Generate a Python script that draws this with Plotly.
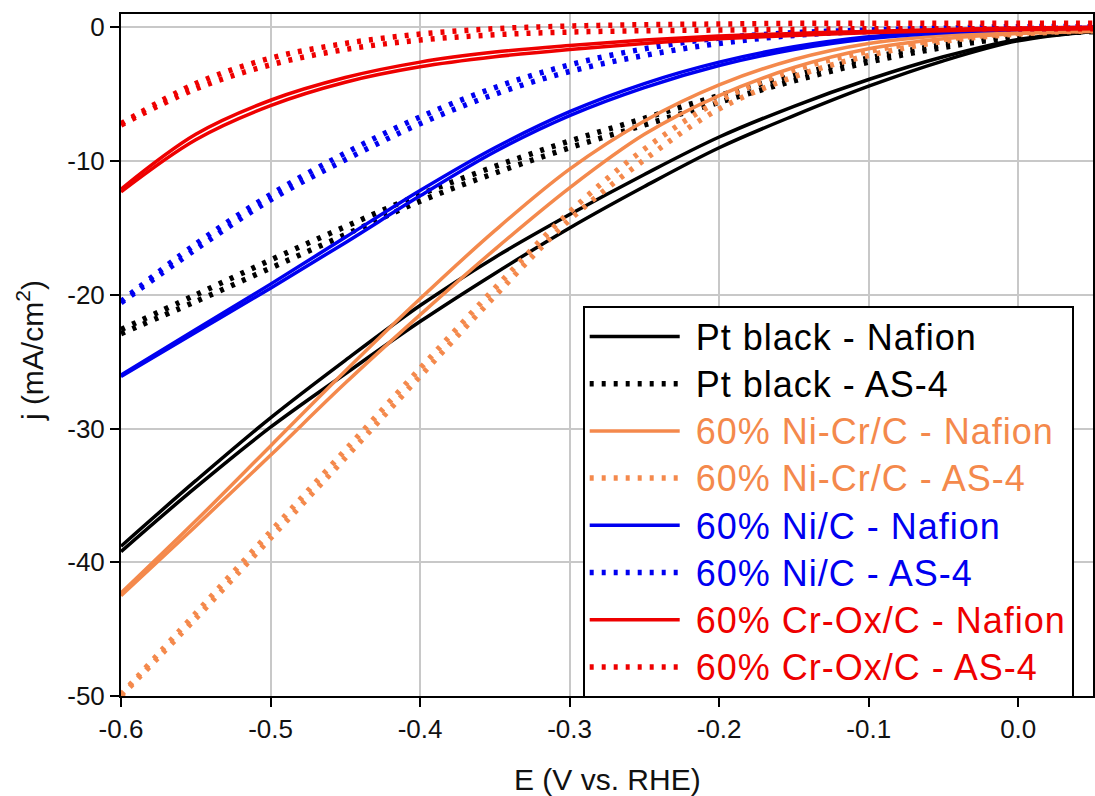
import plotly.graph_objects as go

# Potential grid (V vs. RHE)
E = [-0.60, -0.55, -0.50, -0.45, -0.40, -0.35, -0.30, -0.25, -0.20, -0.15, -0.10, -0.05, 0.00, 0.05]
x_ticks = [-0.6, -0.5, -0.4, -0.3, -0.2, -0.1, 0.0]
x_tick_text = ["-0.6", "-0.5", "-0.4", "-0.3", "-0.2", "-0.1", "0.0"]
y_ticks = [0, -10, -20, -30, -40, -50]
y_tick_text = ["0", "-10", "-20", "-30", "-40", "-50"]

# Current density (mA/cm2), two scan branches per sample
pt_nafion_a = [-38.8, -33.9, -29.2, -24.9, -20.8, -17.2, -14.0, -11.0, -8.2, -5.9, -3.9, -2.2, -0.9, -0.3]
pt_nafion_b = [-39.2, -34.4, -29.9, -25.9, -22.0, -18.4, -15.0, -11.9, -9.0, -6.6, -4.4, -2.5, -1.0, -0.3]
pt_as4_a = [-22.6, -20.0, -17.4, -14.9, -12.5, -10.4, -8.5, -6.8, -5.1, -3.6, -2.3, -1.3, -0.6, -0.3]
pt_as4_b = [-22.9, -20.5, -18.0, -15.5, -13.0, -10.9, -9.0, -7.3, -5.6, -4.0, -2.6, -1.5, -0.7, -0.3]
nicr_nafion_a = [-42.3, -36.9, -31.3, -25.7, -20.3, -15.2, -10.6, -7.0, -4.3, -2.4, -1.2, -0.6, -0.3, -0.2]
nicr_nafion_b = [-42.5, -37.3, -32.0, -26.6, -21.5, -16.6, -12.0, -8.0, -5.1, -3.0, -1.6, -0.85, -0.45, -0.3]
nicr_as4_a = [-49.9, -43.8, -37.7, -31.6, -25.5, -19.5, -13.8, -9.1, -5.5, -3.2, -1.8, -0.9, -0.45, -0.2]
nicr_as4_b = [-50.0, -44.2, -38.2, -32.2, -26.1, -20.1, -14.4, -9.9, -6.1, -3.7, -2.1, -1.05, -0.5, -0.25]
ni_nafion_a = [-26.0, -22.6, -19.2, -15.7, -12.2, -9.0, -6.3, -4.2, -2.6, -1.45, -0.7, -0.3, -0.1, 0.0]
ni_nafion_b = [-26.1, -22.8, -19.5, -16.1, -12.6, -9.3, -6.6, -4.5, -2.85, -1.65, -0.85, -0.4, -0.15, -0.05]
ni_as4_a = [-20.5, -16.2, -12.5, -9.4, -6.7, -4.5, -2.8, -1.6, -0.8, -0.4, -0.2, -0.05, 0.05, 0.05]
ni_as4_b = [-20.6, -16.6, -12.9, -9.9, -7.2, -5.0, -3.3, -2.1, -1.2, -0.6, -0.3, -0.15, -0.1, -0.05]
crox_nafion_a = [-12.1, -8.0, -5.45, -3.75, -2.6, -1.85, -1.35, -0.95, -0.65, -0.45, -0.3, -0.15, -0.05, 0.0]
crox_nafion_b = [-12.3, -8.4, -5.85, -4.1, -2.95, -2.2, -1.65, -1.2, -0.85, -0.6, -0.4, -0.25, -0.15, -0.1]
crox_as4_a = [-7.2, -4.2, -2.3, -1.2, -0.5, -0.1, 0.1, 0.2, 0.25, 0.3, 0.3, 0.3, 0.3, 0.3]
crox_as4_b = [-7.3, -4.6, -2.8, -1.65, -0.95, -0.55, -0.35, -0.25, -0.2, -0.15, -0.1, -0.1, -0.1, -0.1]

names = [
    "Pt black - Nafion", "Pt black - AS-4",
    "60% Ni-Cr/C - Nafion", "60% Ni-Cr/C - AS-4",
    "60% Ni/C - Nafion", "60% Ni/C - AS-4",
    "60% Cr-Ox/C - Nafion", "60% Cr-Ox/C - AS-4",
]
branches = [
    (pt_nafion_a, pt_nafion_b), (pt_as4_a, pt_as4_b),
    (nicr_nafion_a, nicr_nafion_b), (nicr_as4_a, nicr_as4_b),
    (ni_nafion_a, ni_nafion_b), (ni_as4_a, ni_as4_b),
    (crox_nafion_a, crox_nafion_b), (crox_as4_a, crox_as4_b),
]
colors = ["#000000", "#000000", "#F4894C", "#F4894C", "#0000F0", "#0000F0", "#EE0000", "#EE0000"]
dotted = [False, True, False, True, False, True, False, True]

FONT = "Liberation Sans, Arial, sans-serif"

fig = go.Figure()
for name, (ya, yb), col, dot in zip(names, branches, colors, dotted):
    line = dict(color=col, width=5.5 if dot else 3.5, shape="spline", smoothing=1.0,
                dash="4px,8px" if dot else "solid")
    label = (f"<span style='color:{col};font-size:36px;letter-spacing:1px'>"
             f"\u00a0{name}</span>")
    fig.add_trace(go.Scatter(x=E, y=ya, mode="lines", line=line, name=label,
                             legendgroup=name, showlegend=True))
    fig.add_trace(go.Scatter(x=E, y=yb, mode="lines", line=line, name=label,
                             legendgroup=name, showlegend=False))

axis_common = dict(
    showline=True, linecolor="black", linewidth=2, mirror=True,
    showgrid=True, gridcolor="#C8C8C8", gridwidth=2,
    ticks="outside", ticklen=9, tickwidth=2, tickcolor="black",
    tickfont=dict(family=FONT, size=26, color="#111111"),
    zeroline=False,
)

fig.update_layout(
    width=1095, height=796,
    margin=dict(l=121, r=0, t=14, b=100),
    plot_bgcolor="white", paper_bgcolor="white",
    font=dict(family=FONT),
    xaxis=dict(range=[-0.6, 0.05], tickvals=x_ticks, ticktext=x_tick_text, **axis_common),
    yaxis=dict(range=[-50, 1], tickvals=y_ticks, ticktext=y_tick_text, **axis_common),
    legend=dict(
        x=0.475, y=0.572, xanchor="left", yanchor="top",
        bgcolor="white", bordercolor="black", borderwidth=2,
        font=dict(family=FONT, size=34, color="black"),
        itemwidth=90, tracegroupgap=0, itemclick=False,
    ),
    showlegend=True,
    annotations=[
        dict(text="E (V vs. RHE)", xref="paper", yref="paper", x=0.5, y=-0.123,
             xanchor="center", yanchor="middle", showarrow=False,
             font=dict(family=FONT, size=30, color="#111111")),
        dict(text="j (mA/cm<sup>2</sup>)", xref="paper", yref="paper", x=-0.0934, y=0.506,
             xanchor="center", yanchor="middle", textangle=-90, showarrow=False,
             font=dict(family=FONT, size=30, color="#111111")),
    ],
)

fig.write_html("out.html", config={"displayModeBar": False},
               post_script="document.body.style.margin='0';")
